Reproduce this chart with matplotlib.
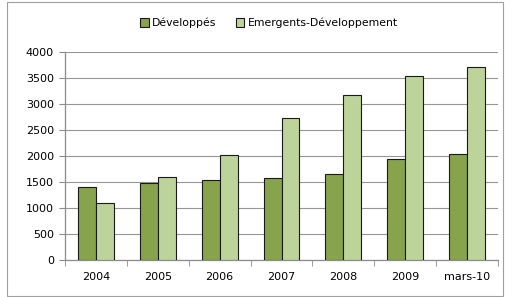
import matplotlib
matplotlib.use("Agg")
import matplotlib.pyplot as plt
import numpy as np
from matplotlib.patches import Rectangle

categories = ["2004", "2005", "2006", "2007", "2008", "2009", "mars-10"]
developpes = [1410, 1490, 1530, 1570, 1655, 1940, 2030]
emergents = [1090, 1590, 2010, 2730, 3175, 3540, 3710]
series_names = ["Développés", "Emergents-Développement"]

plt.rcParams['font.family'] = ['DejaVu Sans']
fig = plt.figure(figsize=(5.12, 2.97), dpi=100)
ax = fig.add_axes([65/512, 37/297, (498-65)/512, (260-52)/297])

x = np.arange(len(categories))
w = 0.29
ax.bar(x - w/2, developpes, w, color="#87a34b", edgecolor="#1a1a1a", linewidth=0.8, label=series_names[0], zorder=3)
ax.bar(x + w/2, emergents, w, color="#bcd39a", edgecolor="#1a1a1a", linewidth=0.8, label=series_names[1], zorder=3)

ax.set_xlim(-0.5, len(categories) - 0.5)
ax.set_ylim(0, 4000)
ax.set_yticks(np.arange(0, 4001, 500))
ax.yaxis.grid(True, color="#969696", linewidth=0.8, zorder=0)
ax.set_xticks(x)
ax.set_xticklabels(categories)
ax.set_xticks(np.arange(-0.5, len(categories), 1), minor=True)
ax.tick_params(axis='x', which='major', length=0, labelsize=8, pad=9)
ax.tick_params(axis='x', which='minor', length=4, color="#8c8c8c", direction='out')
ax.tick_params(axis='y', length=4, color="#8c8c8c", labelsize=8, pad=4)
for s in ["top", "right"]:
    ax.spines[s].set_visible(False)
for s in ["left", "bottom"]:
    ax.spines[s].set_color("#8c8c8c")
    ax.spines[s].set_linewidth(0.9)

fig.legend(loc="center", bbox_to_anchor=(0.525, 1 - 23/297), ncol=2, frameon=False,
           fontsize=7.8, handlelength=0.8, handleheight=0.8, handletextpad=0.3, columnspacing=1.8)
fig.patches.append(Rectangle((7/512, 1/297), 496/512, 294/297, transform=fig.transFigure,
                             fill=False, edgecolor="#a0a0a0", linewidth=0.8))
fig.savefig("out.png", dpi=100)
